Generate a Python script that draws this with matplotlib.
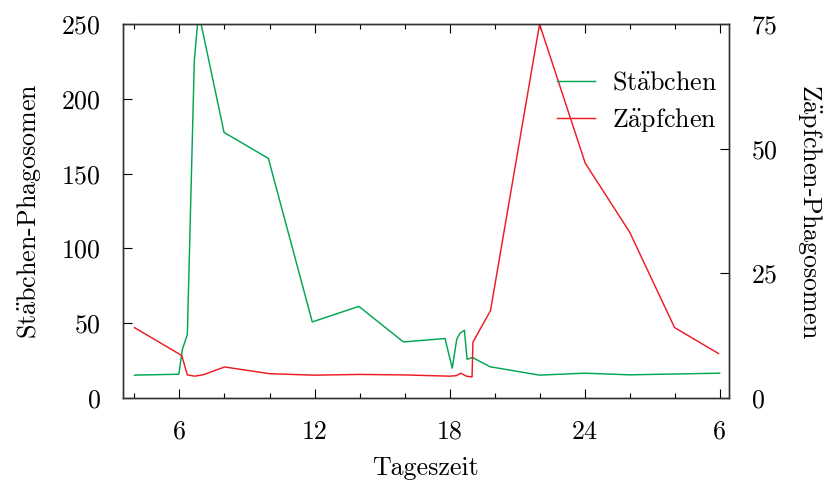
import numpy as np
import matplotlib
matplotlib.use('Agg')
from matplotlib import pyplot as plt

plt.rcParams['font.family'] = ['cmr10', 'DejaVu Serif']
plt.rcParams['mathtext.fontset'] = 'cm'
plt.rcParams['axes.formatter.use_mathtext'] = True
plt.rcParams['font.size'] = 18.7

# Staebchen (left axis)
hours_st = [4.0, 5.97, 6.13, 6.35, 6.66, 6.85, 7.98, 9.95, 11.9, 13.97, 15.95, 17.8,
            18.12, 18.32, 18.46, 18.66, 18.78, 19.02, 19.8, 22.0, 24.0, 26.0, 30.0]
st = [15.2, 15.8, 32.5, 42.5, 226, 258, 177.6, 160.2, 50.8, 61.2, 37.4, 39.7,
      19.9, 39.2, 43.1, 45.3, 25.8, 27.0, 20.8, 15.2, 16.5, 15.4, 16.5]

# Zaepfchen (right axis)
hours_zp = [4.0, 6.1, 6.35, 6.68, 7.07, 8.0, 10.0, 12.0, 14.0, 16.0, 18.0, 18.3,
            18.5, 18.75, 19.0, 19.04, 19.82, 22.0, 24.03, 26.0, 28.0, 29.95]
zp = [14.1, 8.5, 4.6, 4.35, 4.65, 6.2, 4.85, 4.55, 4.7, 4.6, 4.35, 4.45,
      4.95, 4.35, 4.2, 11.2, 17.5, 75.0, 47.1, 33.3, 14.1, 8.9]

xticks = [6, 12, 18, 24, 30]
xticklabels = ['6', '12', '18', '24', '6']
minor_xticks = np.arange(4, 31, 2)

green = '#00a651'
red = '#ed1c24'

fig = plt.figure(figsize=(8.27, 4.84), dpi=100)
ax = fig.add_axes([0.149, 0.178, 0.732, 0.772])
ax2 = ax.twinx()

l1, = ax.plot(hours_st, st, color=green, lw=1.05, label=r'St$\ddot{\mathrm{a}}$bchen')
l2, = ax2.plot(hours_zp, zp, color=red, lw=1.05, label=r'Z$\ddot{\mathrm{a}}$pfchen')

ax.set_xlim(3.5, 30.4)
ax.set_ylim(0, 250)
ax2.set_ylim(0, 75)
ax.set_xticks(xticks)
ax.set_xticklabels(xticklabels)
ax.set_xticks(minor_xticks, minor=True)
ax.set_yticks([0, 50, 100, 150, 200, 250])
ax2.set_yticks([0, 25, 50, 75])

ax.tick_params(axis='x', which='both', direction='in', top=True, width=0.8, pad=16)
ax.tick_params(axis='x', which='major', length=6.5)
ax.tick_params(axis='x', which='minor', length=3.6)
ax.tick_params(axis='y', direction='in', length=6.5, width=0.8, pad=16, right=False)
ax2.tick_params(axis='y', direction='in', length=6.5, width=0.8, pad=16)
for a in (ax, ax2):
    for s in a.spines.values():
        s.set_linewidth(1.0)
        s.set_color('#333333')

ax.set_xlabel('Tageszeit', labelpad=9)
ax.set_ylabel(r'St$\ddot{\mathrm{a}}$bchen-Phagosomen', labelpad=13)
ax2.set_ylabel(r'Z$\ddot{\mathrm{a}}$pfchen-Phagosomen', rotation=270, labelpad=33)

ax2.legend(handles=[l1, l2], loc='upper right', bbox_to_anchor=(0.883, 0.880),
           bbox_transform=fig.transFigure, frameon=False, borderpad=0,
           handlelength=1.45, handletextpad=0.65, labelspacing=0.45)

plt.savefig('out.png', dpi=100)
